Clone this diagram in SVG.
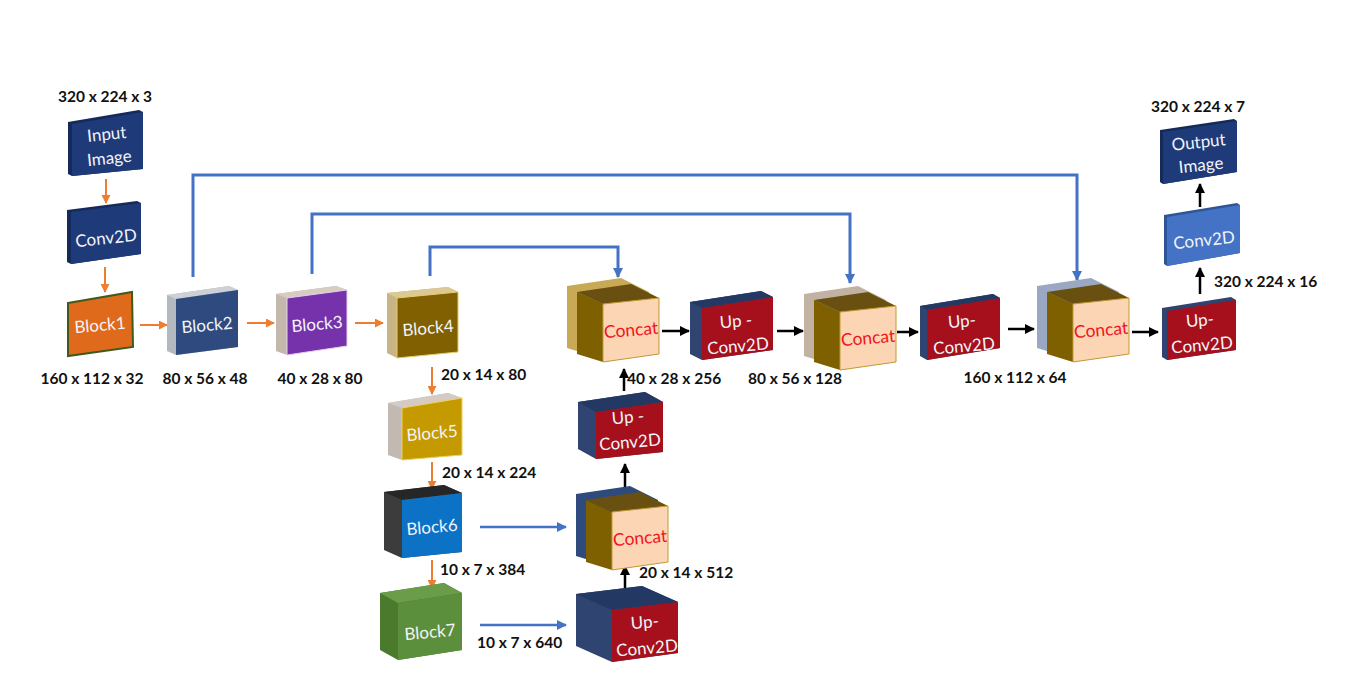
<svg xmlns="http://www.w3.org/2000/svg" xmlns:xlink="http://www.w3.org/1999/xlink" width="1350" height="685" viewBox="0 0 1350 685">
<style>
.lbl{font-family:Lato,"Liberation Sans",sans-serif;font-weight:bold;font-size:15.5px;fill:#111}
.bt{font-family:Lato,"Liberation Sans",sans-serif;font-size:17px;fill:#f2f4f8;text-anchor:middle}
.ct{font-family:Lato,"Liberation Sans",sans-serif;font-size:17.5px;fill:#f0141e;text-anchor:middle}
.navy{fill:#1f3a78}.navyS{fill:#142a5a}
.red{fill:#a5101c}.upS{fill:#2f4470}.upT{fill:#233863}
.cside{fill:#7f6000}.ctop{fill:#6a5010}.cfront{fill:#fcd5b4;stroke:#c09a30;stroke-width:1}
.or{stroke:#ed7d31;stroke-width:2;fill:none}
.bk{stroke:#000;stroke-width:2.5;fill:none}
.bl{stroke:#4472c4;stroke-width:2.5;fill:none}
.sk{stroke:#4472c4;stroke-width:3;fill:none}
</style>
<defs>
<marker id="mo" viewBox="0 0 10 10" refX="9" refY="5" markerUnits="userSpaceOnUse" markerWidth="9" markerHeight="9" orient="auto"><path d="M0,0 L10,5 L0,10 z" fill="#ed7d31"/></marker>
<marker id="mk" viewBox="0 0 10 10" refX="9" refY="5" markerUnits="userSpaceOnUse" markerWidth="10" markerHeight="10" orient="auto"><path d="M0,0 L10,5 L0,10 z" fill="#000"/></marker>
<marker id="mb" viewBox="0 0 10 10" refX="9" refY="5" markerUnits="userSpaceOnUse" markerWidth="10" markerHeight="10" orient="auto"><path d="M0,0 L10,5 L0,10 z" fill="#4472c4"/></marker>
<polygon id="layer" points="0,6 54,-2 82,12 82,68 26,76 0,68"/>
<g id="cube">
<polygon class="cside" points="10,12 36,24 36,82 10,74"/>
<polygon class="ctop" points="10,12 64,4 92,18 36,24"/>
<polygon class="cfront" points="36,24 92,18 92,74 36,82"/>
</g>
</defs>
<rect width="1350" height="685" fill="#fff"/>

<g id="connectors">
<line class="or" x1="106" y1="179" x2="106" y2="203" marker-end="url(#mo)"/>
<line class="or" x1="105" y1="267" x2="105" y2="292" marker-end="url(#mo)"/>
<line class="or" x1="140" y1="325" x2="167" y2="325" marker-end="url(#mo)"/>
<line class="or" x1="247" y1="323" x2="274" y2="323" marker-end="url(#mo)"/>
<line class="or" x1="355" y1="323" x2="383" y2="323" marker-end="url(#mo)"/>
<line class="or" x1="432" y1="367" x2="432" y2="394" marker-end="url(#mo)"/>
<line class="or" x1="432" y1="462" x2="432" y2="489" marker-end="url(#mo)"/>
<line class="or" x1="432" y1="560" x2="432" y2="588" marker-end="url(#mo)"/>
<line class="bl" x1="480" y1="527" x2="566" y2="527" marker-end="url(#mb)"/>
<line class="bl" x1="480" y1="625" x2="566" y2="625" marker-end="url(#mb)"/>
<line class="bk" x1="625" y1="591" x2="625" y2="566" marker-end="url(#mk)"/>
<line class="bk" x1="625" y1="488" x2="625" y2="464" marker-end="url(#mk)"/>
<line class="bk" x1="624" y1="391" x2="624" y2="369" marker-end="url(#mk)"/>
<line class="bk" x1="662" y1="331" x2="689" y2="331" marker-end="url(#mk)"/>
<line class="bk" x1="777" y1="331" x2="803" y2="331" marker-end="url(#mk)"/>
<line class="bk" x1="897" y1="332" x2="918" y2="332" marker-end="url(#mk)"/>
<line class="bk" x1="1008" y1="329" x2="1034" y2="329" marker-end="url(#mk)"/>
<line class="bk" x1="1132" y1="332" x2="1158" y2="332" marker-end="url(#mk)"/>
<line class="bk" x1="1200" y1="294" x2="1200" y2="268" marker-end="url(#mk)"/>
<line class="bk" x1="1200" y1="207" x2="1200" y2="184" marker-end="url(#mk)"/>
<path class="sk" d="M193,277 V175 H1077 V280" marker-end="url(#mb)"/>
<path class="sk" d="M312,274 V214 H850 V283" marker-end="url(#mb)"/>
<path class="sk" d="M430,276 V247 H618 V277" marker-end="url(#mb)"/>
</g>

<g id="input-image">
<polygon class="navyS" points="68,122 139,110 143,112 143,169 72,176 68,174"/>
<polygon class="navy" points="72,124 143,112 143,169 72,176"/>
<g transform="rotate(-6 108 146)"><text class="bt" x="108" y="140">Input</text><text class="bt" x="108" y="164">Image</text></g>
<text class="lbl" x="105" y="102" text-anchor="middle">320 x 224 x 3</text>
</g>

<g id="conv2d-in">
<polygon class="navyS" points="67,210 137,201 141,203 141,254 71,264 67,262"/>
<polygon class="navy" points="71,212 141,203 141,254 71,264"/>
<text class="bt" x="106" y="244" transform="rotate(-6 106 238)">Conv2D</text>
</g>

<g id="block1">
<polygon points="68,303 132,292 133,347 68,356" fill="#df6a1c" stroke="#3f5a1a" stroke-width="2"/>
<text class="bt" x="100" y="331" transform="rotate(-5 100 325)">Block1</text>
<text class="lbl" x="92" y="384" text-anchor="middle">160 x 112 x 32</text>
</g>

<g id="block2">
<polygon points="167,295 229,286 238,290 238,347 176,355 167,351" fill="#b4b8bf"/>
<polygon points="167,295 229,286 238,290 176,299" fill="#cdd1d6"/>
<polygon points="176,299 238,290 238,347 176,355" fill="#2e4a7e"/>
<text class="bt" x="207" y="331" transform="rotate(-5 207 325)">Block2</text>
<text class="lbl" x="205" y="384" text-anchor="middle">80 x 56 x 48</text>
</g>

<g id="block3">
<polygon points="276,294 336,286 347,290 347,346 287,355 276,351" fill="#c4b8ac"/>
<polygon points="276,294 336,286 347,290 287,298" fill="#d8ccc0"/>
<polygon points="287,298 347,290 347,346 287,355" fill="#7632aa" stroke="#e8d0f0" stroke-width="1"/>
<text class="bt" x="317" y="330" transform="rotate(-5 317 324)">Block3</text>
<text class="lbl" x="320" y="384" text-anchor="middle">40 x 28 x 80</text>
</g>

<g id="block4">
<polygon points="387,293 448,287 458,292 458,352 397,358 387,353" fill="#c8b486"/>
<polygon points="387,293 448,287 458,292 397,298" fill="#dcc892"/>
<polygon points="397,298 458,292 458,352 397,358" fill="#806000" stroke="#e8cc70" stroke-width="1"/>
<text class="bt" x="428" y="334" transform="rotate(-5 428 328)">Block4</text>
<text class="lbl" x="441" y="380">20 x 14 x 80</text>
</g>

<g id="block5">
<polygon points="388,403 448,393 462,398 462,455 402,460 388,455" fill="#c2bab2"/>
<polygon points="388,403 448,393 462,398 402,408" fill="#d4ccc4"/>
<polygon points="402,408 462,398 462,455 402,460" fill="#c49a00" stroke="#f0d060" stroke-width="1"/>
<text class="bt" x="432" y="439" transform="rotate(-5 432 433)">Block5</text>
<text class="lbl" x="442" y="478">20 x 14 x 224</text>
</g>

<g id="block6">
<polygon points="384,492 444,485 462,493 462,552 402,558 384,550" fill="#3c3c3c"/>
<polygon points="384,492 444,485 462,493 402,500" fill="#262626"/>
<polygon points="402,500 462,493 462,552 402,558" fill="#0b72c6"/>
<text class="bt" x="432" y="533" transform="rotate(-5 432 527)">Block6</text>
<text class="lbl" x="440" y="575">10 x 7 x 384</text>
</g>

<g id="block7">
<polygon points="380,593 444,583 462,593 462,650 398,660 380,650" fill="#4b7a2c"/>
<polygon points="380,593 444,583 462,593 398,603" fill="#6a9c4a"/>
<polygon points="398,603 462,593 462,650 398,660" fill="#5b8f3b"/>
<text class="bt" x="430" y="638" transform="rotate(-5 430 632)">Block7</text>
<text class="lbl" x="477" y="648">10 x 7 x 640</text>
</g>

<g id="upconv1">
<polygon class="upS" points="576,594 642,586 678,602 678,653 612,662 576,646"/>
<polygon class="upT" points="576,594 642,586 678,602 612,610"/>
<polygon class="red" points="612,610 678,602 678,653 612,662"/>
<g transform="rotate(-5 646 636)"><text class="bt" x="646" y="628">Up-</text><text class="bt" x="646" y="654">Conv2D</text></g>
</g>

<g id="concat1" transform="translate(576,488)">
<use xlink:href="#layer" href="#layer" fill="#2f4a7c"/>
<use xlink:href="#cube" href="#cube"/>
<text class="ct" x="64" y="56" transform="rotate(-5 64 50)">Concat</text>
<text class="lbl" x="63" y="90">20 x  14 x 512</text>
</g>

<g id="upconv2">
<polygon class="upS" points="578,402 645,392 663,402 663,452 596,459 578,449"/>
<polygon class="upT" points="578,402 645,392 663,402 596,412"/>
<polygon class="red" points="596,412 663,402 663,452 596,459"/>
<g transform="rotate(-5 629 430)"><text class="bt" x="629" y="423">Up -</text><text class="bt" x="629" y="448">Conv2D</text></g>
</g>

<g id="concat2" transform="translate(567,280)">
<use xlink:href="#layer" href="#layer" fill="#c8a955"/>
<use xlink:href="#cube" href="#cube"/>
<text class="ct" x="64" y="56" transform="rotate(-5 64 50)">Concat</text>
<text class="lbl" x="60" y="104">40 x 28 x 256</text>
</g>

<g id="upconv3">
<polygon class="upS" points="690,302 761,291 773,297 773,350 702,360 690,354"/>
<polygon class="upT" points="690,302 761,291 773,297 702,308"/>
<polygon class="red" points="702,308 773,297 773,350 702,360"/>
<g transform="rotate(-5 737 334)"><text class="bt" x="737" y="327">Up -</text><text class="bt" x="737" y="352">Conv2D</text></g>
<text class="lbl" x="795" y="384" text-anchor="middle">80 x 56 x 128</text>
</g>

<g id="concat3" transform="translate(804,288)">
<use xlink:href="#layer" href="#layer" fill="#c2b2a4"/>
<use xlink:href="#cube" href="#cube"/>
<text class="ct" x="64" y="56" transform="rotate(-5 64 50)">Concat</text>
</g>

<g id="upconv4">
<polygon class="upS" points="920,306 993,294 1000,298 1000,348 927,360 920,356"/>
<polygon class="upT" points="920,306 993,294 1000,298 927,310"/>
<polygon class="red" points="927,310 1000,298 1000,348 927,360"/>
<g transform="rotate(-5 963 334)"><text class="bt" x="963" y="327">Up-</text><text class="bt" x="963" y="352">Conv2D</text></g>
<text class="lbl" x="1015" y="383" text-anchor="middle">160 x 112 x 64</text>
</g>

<g id="concat4" transform="translate(1037,280)">
<use xlink:href="#layer" href="#layer" fill="#9aa8c4"/>
<use xlink:href="#cube" href="#cube"/>
<text class="ct" x="64" y="56" transform="rotate(-5 64 50)">Concat</text>
</g>

<g id="upconv5">
<polygon class="upS" points="1162,308 1231,297 1236,300 1236,350 1167,360 1162,357"/>
<polygon class="red" points="1167,311 1236,300 1236,350 1167,360"/>
<g transform="rotate(-5 1201 333)"><text class="bt" x="1201" y="326">Up-</text><text class="bt" x="1201" y="351">Conv2D</text></g>
<text class="lbl" x="1214" y="287">320 x 224 x 16</text>
</g>

<g id="conv2d-out">
<polygon points="1164,215 1237,203 1240,205 1240,253 1167,266 1164,264" fill="#2f5596"/>
<polygon points="1167,217 1240,205 1240,253 1167,266" fill="#4472c4"/>
<text class="bt" x="1204" y="246" transform="rotate(-6 1204 240)">Conv2D</text>
</g>

<g id="output-image">
<polygon class="navyS" points="1160,130 1234,119 1237,121 1237,172 1163,184 1160,182"/>
<polygon class="navy" points="1163,132 1237,121 1237,172 1163,184"/>
<g transform="rotate(-6 1200 156)"><text class="bt" x="1200" y="148">Output</text><text class="bt" x="1200" y="171">Image</text></g>
<text class="lbl" x="1198" y="112" text-anchor="middle">320 x 224 x 7</text>
</g>
</svg>
